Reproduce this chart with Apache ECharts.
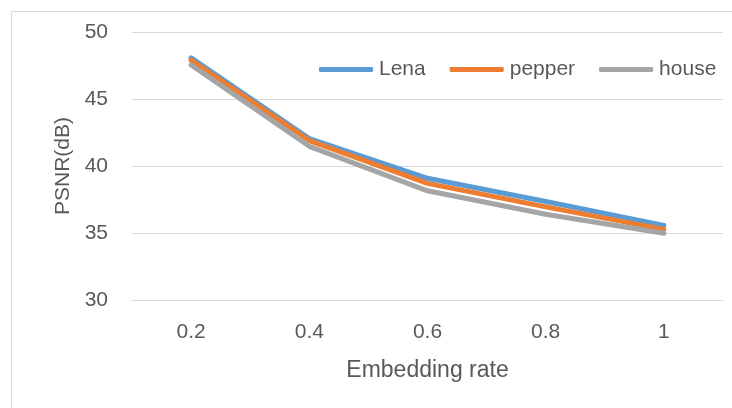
<!DOCTYPE html>
<html>
<head>
<meta charset="utf-8">
<script src="https://cdn.jsdelivr.net/npm/echarts@6/dist/echarts.min.js"></script>
<style>
  html, body { margin: 0; padding: 0; background: #fff; }
  #chart { width: 732px; height: 408px; }
</style>
</head>
<body>
<div id="chart"></div>
<script>
// Embedding rate categories and PSNR (dB) for each test image
const rates = ['0.2', '0.4', '0.6', '0.8', '1'];
const lena = [48.07, 42.05, 39.08, 37.35, 35.57];
const pepper = [47.9, 41.9, 38.7, 36.95, 35.27];
const house = [47.55, 41.47, 38.15, 36.4, 34.98];
const yTicks = { min: 30, max: 50, step: 5 };

const textColor = '#595959';
const font = 'Liberation Sans';

function lineSeries(name, data, color) {
  return {
    name: name,
    type: 'line',
    data: data,
    showSymbol: false,
    symbol: 'none',
    lineStyle: { width: 5, color: color, cap: 'round', join: 'round' },
    itemStyle: { color: color },
    emphasis: { disabled: true }
  };
}

const chart = echarts.init(document.getElementById('chart'), null, { renderer: 'canvas' });
chart.setOption({
  animation: false,
  backgroundColor: '#ffffff',
  graphic: [{
    type: 'rect',
    shape: { x: 11.5, y: 11.5, width: 740, height: 420 },
    style: { fill: 'none', stroke: '#d9d9d9', lineWidth: 1 },
    silent: true,
    z: -1
  }],
  grid: { left: 132, right: 9, top: 32, bottom: 108, containLabel: false },
  legend: {
    left: 314,
    top: 54,
    itemWidth: 54,
    itemHeight: 5,
    itemGap: 24,
    icon: 'roundRect',
    textStyle: { color: textColor, fontFamily: font, fontSize: 21, padding: [0, 0, 0, 1] },
    data: ['Lena', 'pepper', 'house']
  },
  xAxis: {
    type: 'category',
    data: rates,
    boundaryGap: true,
    name: 'Embedding rate',
    nameLocation: 'middle',
    nameGap: 59,
    nameTextStyle: { color: textColor, fontFamily: font, fontSize: 23 },
    axisLine: { show: true, lineStyle: { color: '#d9d9d9', width: 1 } },
    axisTick: { show: false },
    axisLabel: { color: textColor, fontFamily: font, fontSize: 21, margin: 22 },
    splitLine: { show: false }
  },
  yAxis: {
    type: 'value',
    min: yTicks.min,
    max: yTicks.max,
    interval: yTicks.step,
    name: 'PSNR(dB)',
    nameLocation: 'middle',
    nameGap: 58,
    nameRotate: 90,
    nameTextStyle: { color: textColor, fontFamily: font, fontSize: 21 },
    axisLine: { show: false },
    axisTick: { show: false },
    axisLabel: { color: textColor, fontFamily: font, fontSize: 21, margin: 24 },
    splitLine: { show: true, lineStyle: { color: '#d9d9d9', width: 1 } }
  },
  series: [
    lineSeries('Lena', lena, '#5b9bd5'),
    lineSeries('pepper', pepper, '#ed7d31'),
    lineSeries('house', house, '#a5a5a5')
  ]
});
</script>
</body>
</html>
